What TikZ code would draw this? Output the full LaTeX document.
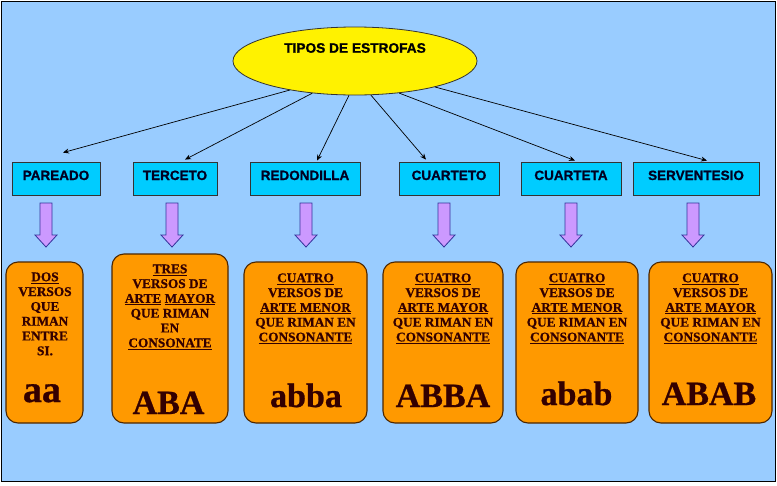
\documentclass[tikz,border=0pt]{standalone}
\usepackage{fontspec}
\setmainfont{Liberation Serif}
\newfontfamily\serifheavy{Liberation Serif Bold}[FakeBold=0.8]
\newfontfamily\sansheavy{Liberation Sans Bold}[FakeBold=1]
\usetikzlibrary{shapes.geometric,arrows.meta,calc}
\definecolor{bgblue}{HTML}{99CCFF}
\definecolor{cyanbox}{HTML}{00CCFF}
\definecolor{orangebox}{HTML}{FF9900}
\definecolor{lilac}{HTML}{CC99FF}
\definecolor{lilacline}{HTML}{333399}
\definecolor{darktext}{HTML}{330000}
\definecolor{navytext}{HTML}{000022}
\begin{document}
\begin{tikzpicture}[x=1pt,y=-1pt,
  root/.style={ellipse, draw=black!80, fill=yellow, line width=0.8pt, minimum width=244pt, minimum height=68pt, inner sep=0pt},
  roottext/.style={font=\sansheavy\fontsize{13.7}{15}\selectfont, inner sep=0pt},
  catbox/.style={draw=black!80, fill=cyanbox, line width=0.8pt, minimum height=33pt, inner sep=0pt, font=\sansheavy\fontsize{13.5}{15}\selectfont, text=navytext, text height=10pt, text depth=7pt},
  conn/.style={line width=0.7pt, -{Stealth[length=6pt,width=5pt]}},
  rimebox/.style={draw=black!70!orange, fill=orangebox, line width=1.1pt, rounded corners=12pt, minimum height=161pt, inner sep=0pt},
  rimetext/.style={font=\serifheavy\fontsize{13.3}{14.8}\selectfont, align=center, text=darktext, anchor=north, inner sep=0pt},
  rimebig/.style={font=\serifheavy\fontsize{34}{36}\selectfont, text=darktext, anchor=base, inner sep=0pt},
  downarr/.pic={\draw[fill=lilac, draw=lilacline, line width=0.8pt] (-6,0) -- (6,0) -- (6,32) -- (11,32) -- (0,44) -- (-11,32) -- (-6,32) -- cycle;}
]
\useasboundingbox (0,0) rectangle (777,485);
\fill[white] (0,0) rectangle (777,485);
\filldraw[fill=bgblue, draw=black, line width=1pt] (1,1) rectangle (775,481);

% root
\node[root] (root) at (355,61) {};
\node[roottext] (roottitle) at (355,48) {TIPOS DE ESTROFAS};

% categories
\node[catbox, minimum width=88pt] (pareado) at (56,178.5) {PAREADO};
\node[catbox, minimum width=84pt] (terceto) at (175,178.5) {TERCETO};
\node[catbox, minimum width=110pt] (redondilla) at (305,178.5) {REDONDILLA};
\node[catbox, minimum width=100pt] (cuarteto) at (449,178.5) {CUARTETO};
\node[catbox, minimum width=100pt] (cuarteta) at (571,178.5) {CUARTETA};
\node[catbox, minimum width=126pt] (serventesio) at (696,178.5) {SERVENTESIO};

% connectors
\draw[conn] (root.204) -- ($(pareado.north)+(7,-9)$);
\draw[conn] (root.217.5) -- ($(terceto.north)+(10,-2)$);
\draw[conn] (root.260) -- ($(redondilla.north)+(12,-1)$);
\draw[conn] (root.295) -- ($(cuarteto.north)+(-23,-2)$);
\draw[conn] (root.324.6) -- ($(cuarteta.north)+(4,-1)$);
\draw[conn] (root.342.4) -- ($(serventesio.north)+(11,-1)$);

% block arrows
\pic at (46,203) {downarr};
\pic at (172,203) {downarr};
\pic at (306,203) {downarr};
\pic at (444,203) {downarr};
\pic at (571,203) {downarr};
\pic at (693,203) {downarr};

% rhyme boxes
\node[rimebox, minimum width=77pt] (b1) at (44.5,342.5) {};
\node[rimebox, minimum width=116pt, minimum height=169pt] (b2) at (170,338.5) {};
\node[rimebox, minimum width=123pt] (b3) at (305.5,342.5) {};
\node[rimebox, minimum width=120pt] (b4) at (443,342.5) {};
\node[rimebox, minimum width=122pt] (b5) at (577,342.5) {};
\node[rimebox, minimum width=123pt] (b6) at (710.5,342.5) {};

\node[rimetext] (t1) at (45,272.2) {\underline{DOS}\\VERSOS\\QUE\\RIMAN\\ENTRE\\SI.};
\node[rimetext] (t2) at (170,264.2) {\underline{TRES}\\VERSOS DE\\\underline{ARTE} \underline{MAYOR}\\QUE RIMAN\\EN\\\underline{CONSONATE}};
\node[rimetext] (t3) at (305.5,273.2) {\underline{CUATRO}\\VERSOS DE\\\underline{ARTE MENOR}\\QUE RIMAN EN\\\underline{CONSONANTE}};
\node[rimetext] (t4) at (443,273.2) {\underline{CUATRO}\\VERSOS DE\\\underline{ARTE MAYOR}\\QUE RIMAN EN\\\underline{CONSONANTE}};
\node[rimetext] (t5) at (577,273.2) {\underline{CUATRO}\\VERSOS DE\\\underline{ARTE MENOR}\\QUE RIMAN EN\\\underline{CONSONANTE}};
\node[rimetext] (t6) at (710.5,273.2) {\underline{CUATRO}\\VERSOS DE\\\underline{ARTE MAYOR}\\QUE RIMAN EN\\\underline{CONSONANTE}};

\node[rimebig, font=\serifheavy\fontsize{38}{40}\selectfont] (r1) at (42,402) {aa};
\node[rimebig] (r2) at (168.5,414) {ABA};
\node[rimebig] (r3) at (306,407) {abba};
\node[rimebig] (r4) at (443,407) {ABBA};
\node[rimebig] (r5) at (576.5,405) {abab};
\node[rimebig] (r6) at (709,405) {ABAB};
\end{tikzpicture}
\end{document}
